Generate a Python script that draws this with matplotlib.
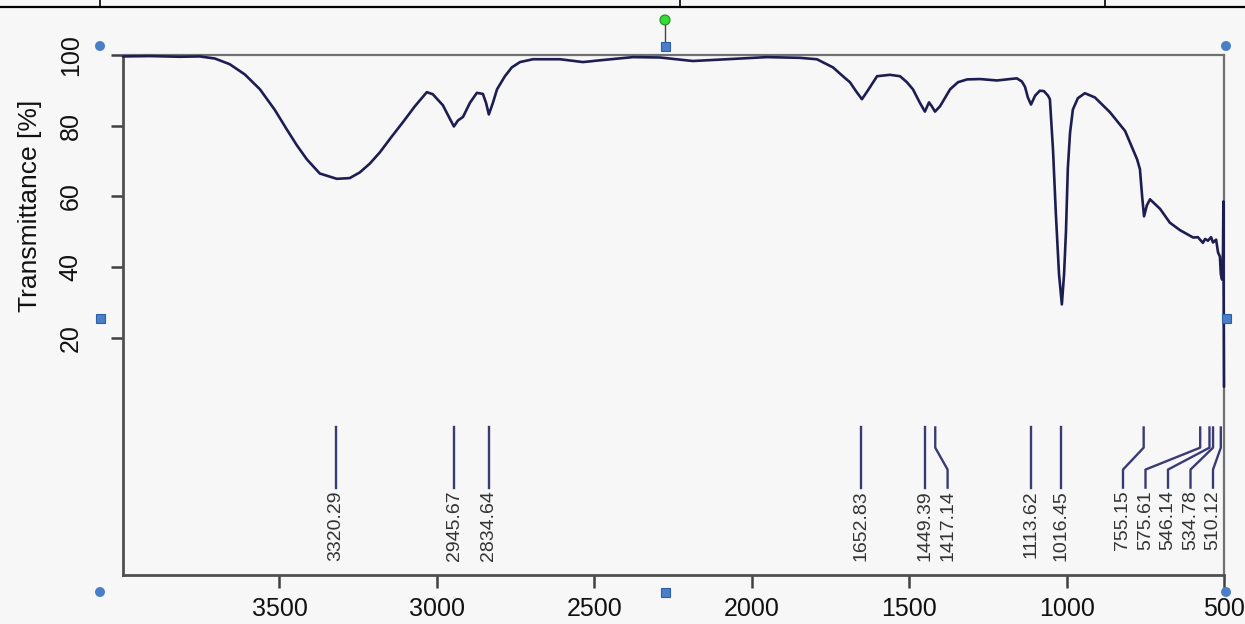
import numpy as np
import matplotlib
matplotlib.use("Agg")
import matplotlib.pyplot as plt
from matplotlib.lines import Line2D
from matplotlib.patches import Ellipse, Rectangle

# ---------------- data ----------------
wavenumber = [3997, 3912, 3816, 3753, 3705, 3658, 3610, 3562, 3515, 3477, 3445, 3413,
              3372, 3318, 3277, 3245, 3213, 3181, 3143, 3108, 3070, 3032, 3013, 2981,
              2959, 2946, 2933, 2917, 2895, 2873, 2854, 2844, 2835, 2822, 2809, 2784,
              2762, 2736, 2695, 2609, 2536, 2482, 2377, 2292, 2187, 2101, 1952, 1847,
              1793, 1742, 1704, 1688, 1669, 1650, 1631, 1602, 1561, 1529, 1507, 1488,
              1466, 1450, 1437, 1428, 1418, 1402, 1370, 1345, 1316, 1275, 1221, 1180,
              1158, 1142, 1132, 1123, 1113, 1100, 1085, 1072, 1059, 1053, 1043, 1034,
              1024, 1015, 1008, 1002, 996, 989, 980, 964, 942, 910, 862, 814, 776,
              767, 760, 754, 745, 735, 703, 672, 640, 598, 583, 567, 560, 551, 541,
              535, 525, 519, 513, 510, 506, 503, 502, 501, 500]
transmittance = [99.6, 99.7, 99.5, 99.6, 99.0, 97.4, 94.5, 90.3, 84.5, 79.0, 74.5, 70.5,
                 66.5, 65.0, 65.2, 66.8, 69.3, 72.5, 77.0, 81.0, 85.5, 89.5, 88.9, 85.8,
                 82.0, 79.8, 81.5, 82.5, 86.5, 89.3, 89.0, 86.5, 83.2, 86.5, 90.3, 94.0,
                 96.5, 98.0, 98.8, 98.8, 98.0, 98.5, 99.4, 99.3, 98.3, 98.7, 99.4, 99.2,
                 98.8, 96.5, 93.5, 92.3, 89.8, 87.5, 90.0, 94.0, 94.4, 94.0, 92.3, 90.3,
                 86.5, 84.0, 86.6, 85.5, 84.0, 85.5, 90.3, 92.3, 93.1, 93.2, 92.8, 93.2,
                 93.4, 92.5, 91.0, 88.0, 86.0, 88.5, 89.9, 89.8, 88.5, 87.5, 73.0, 55.0,
                 38.0, 29.5, 38.0, 50.0, 68.0, 78.0, 84.6, 87.8, 89.2, 88.0, 83.8, 78.5, 70.5,
                 67.7, 60.0, 54.4, 57.5, 59.2, 56.5, 52.6, 50.5, 48.4, 48.5, 46.9, 48.0, 47.5, 48.5,
                 47.0, 47.8, 44.2, 43.0, 38.0, 36.5, 45.0, 58.6, 30.0, 6.2]

peak_positions = [3320.29, 2945.67, 2834.64, 1652.83, 1449.39, 1417.14, 1113.62,
                  1016.45, 755.15, 575.61, 546.14, 534.78, 510.12]
peak_labels = ["3320.29", "2945.67", "2834.64", "1652.83", "1449.39", "1417.14",
               "1113.62", "1016.45", "755.15", "575.61", "546.14", "534.78", "510.12"]

x_ticks = [3500, 3000, 2500, 2000, 1500, 1000, 500]
y_ticks = [20, 40, 60, 80, 100]
y_label = "Transmittance [%]"

# ---------------- figure ----------------
W, H, DPI = 1245, 624, 100
bg = "#f7f7f7"
plt.rcParams["font.family"] = ["Liberation Sans", "DejaVu Sans"]
fig = plt.figure(figsize=(W / DPI, H / DPI), dpi=DPI, facecolor=bg)

left, right, top, bottom = 123, 1224, 55, 575
ax = fig.add_axes([left / W, 1 - bottom / H, (right - left) / W, (bottom - top) / H])
ax.set_facecolor(bg)

xmin, xmax = 3997, 500
ymin, ymax = -47.0, 100.0
ax.set_xlim(xmin, xmax)
ax.set_ylim(ymin, ymax)

line_col = "#1d1d52"
ax.plot(wavenumber, transmittance, color=line_col, lw=1.9, solid_joinstyle="round",
        solid_capstyle="round", zorder=3, clip_on=False)

# spines
for s in ["left", "bottom"]:
    ax.spines[s].set_color("#505050")
    ax.spines[s].set_linewidth(2.0)
for s in ["top", "right"]:
    ax.spines[s].set_color("#707070")
    ax.spines[s].set_linewidth(1.6)

ax.set_xticks(x_ticks)
ax.set_xticklabels([str(v) for v in x_ticks])
ax.set_yticks(y_ticks)
ax.set_yticklabels([str(v) for v in y_ticks], rotation=90, va="center")
ax.tick_params(axis="both", direction="out", length=9, width=1.8, color="#404040",
               labelsize=18, labelcolor="#111111")
ax.tick_params(axis="x", pad=7)
ax.tick_params(axis="y", pad=20)
ax.set_ylabel(y_label, fontsize=19, color="#111111")
ax.yaxis.set_label_coords(-0.074, 0.71)

# ---------------- peak annotations ----------------
px_per_unit = (right - left) / (xmin - xmax)
gap = 22.5 / px_per_unit          # minimal label spacing in data units
limit = xmax + 11 / px_per_unit   # rightmost allowed label position

order = sorted(range(len(peak_positions)), key=lambda i: -peak_positions[i])
pos = {}
prev = None
for i in order:
    p = peak_positions[i]
    v = p if prev is None else min(p, prev - gap)
    pos[i] = v
    prev = v
nxt = None
for i in reversed(order):
    v = pos[i]
    v = max(v, limit) if nxt is None else max(v, nxt + gap)
    pos[i] = v
    nxt = v

y_top, y_k1, y_k2, y_bot, y_txt = -5.3, -11.0, -17.2, -22.3, -23.0
ann_col = "#3a3a74"
for i in order:
    p = peak_positions[i]
    q = pos[i]
    if abs(q - p) < 1e-6:
        xs, ys = [p, p], [y_top, y_bot]
    else:
        xs, ys = [p, p, q, q], [y_top, y_k1, y_k2, y_bot]
    ax.plot(xs, ys, color=ann_col, lw=1.7, zorder=2, clip_on=False)
    ax.text(q, y_txt, peak_labels[i], rotation=90, ha="center", va="top",
            fontsize=14, color="#333333")

# ---------------- document-screenshot decorations ----------------
def fx(px):
    return px / W

def fy(py):
    return 1 - py / H

fig.add_artist(Line2D([0, 1], [fy(7), fy(7)], color="black", lw=1.6))
for vx in [100, 680, 1105]:
    fig.add_artist(Line2D([fx(vx), fx(vx)], [1, fy(7)], color="black", lw=1.2))

handle_col = "#4a7fc8"
for (cx, cy) in [(100, 46), (1226, 46), (100, 592), (1226, 592)]:
    fig.add_artist(Ellipse((fx(cx), fy(cy)), 10 / W, 10 / H, transform=fig.transFigure,
                           facecolor=handle_col, edgecolor="none", zorder=10))
sq = 9
for (cx, cy) in [(665, 46), (100, 318), (1226, 318), (665, 592)]:
    fig.add_artist(Rectangle((fx(cx - sq / 2), fy(cy + sq / 2)), sq / W, sq / H,
                             transform=fig.transFigure, facecolor=handle_col,
                             edgecolor="#2d5fa8", lw=0.8, zorder=10))
fig.add_artist(Line2D([fx(665), fx(665)], [fy(20), fy(42)], color="#444444", lw=1.0))
fig.add_artist(Ellipse((fx(665), fy(20)), 10 / W, 10 / H, transform=fig.transFigure,
                       facecolor="#33dd33", edgecolor="#228822", lw=0.8, zorder=11))

fig.savefig("out.png", dpi=DPI, facecolor=bg)
